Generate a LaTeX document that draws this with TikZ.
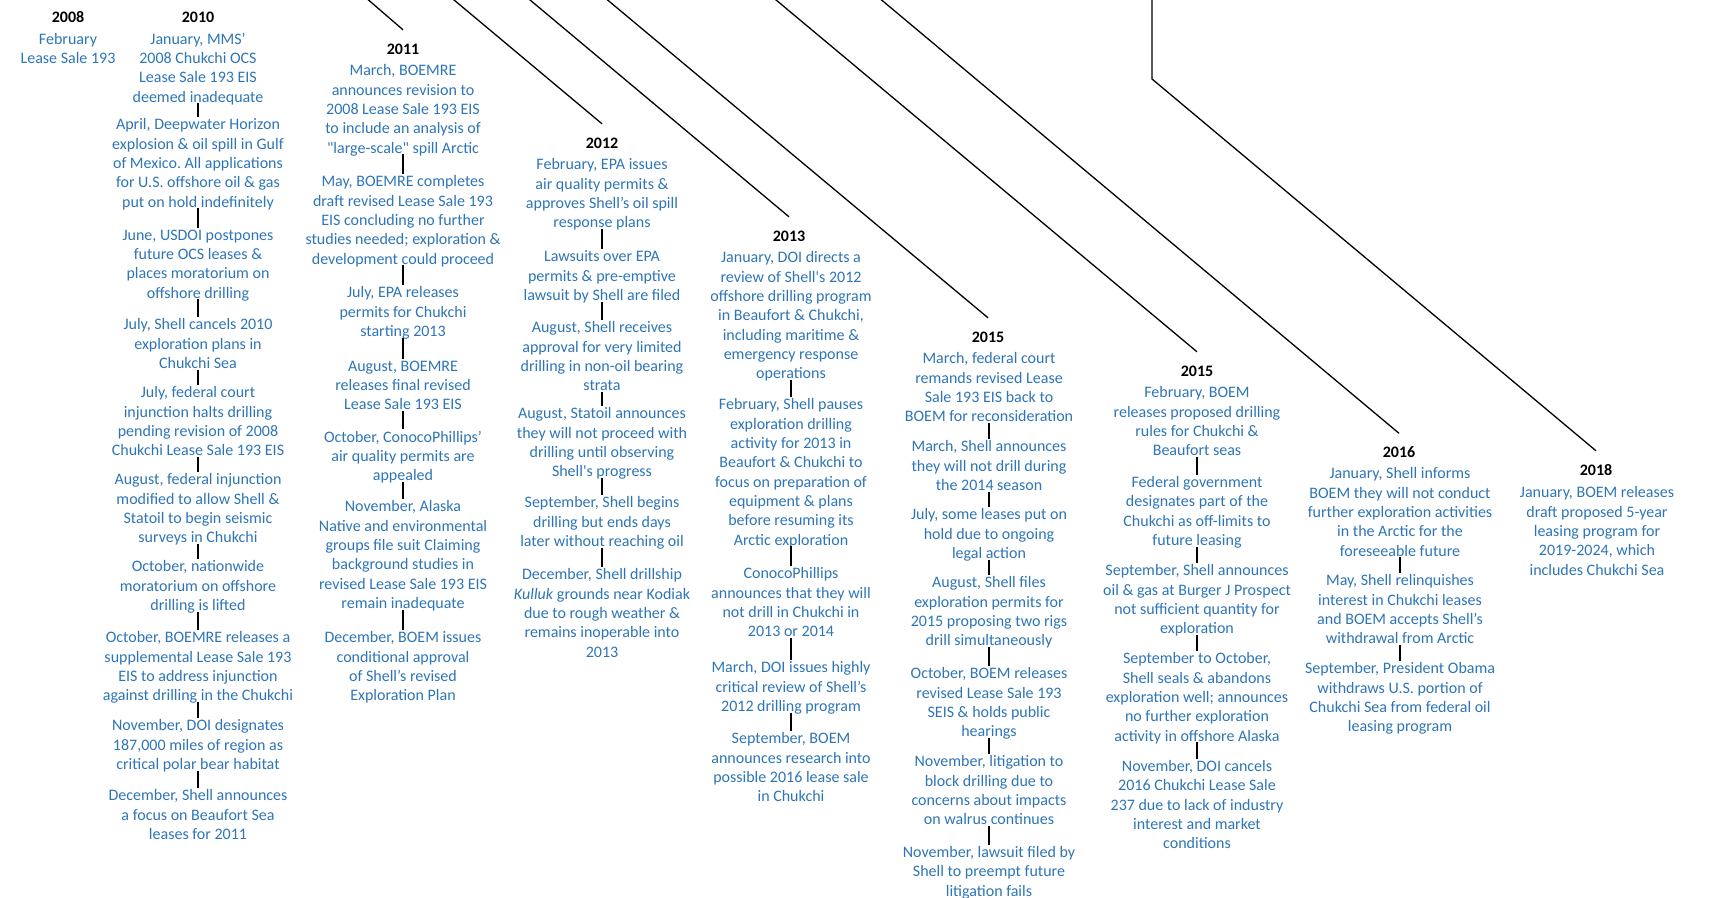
\documentclass[tikz,border=0pt]{standalone}
\usepackage{fontspec}
\setmainfont{Carlito}[Ligatures=TeXOff]
\definecolor{evblue}{HTML}{2E75B6}
\newcommand\evfont{\fontsize{16}{19.3}\selectfont\frenchspacing}
\begin{document}
\begin{tikzpicture}[x=1pt,y=-1pt,
  ev/.style={anchor=north, align=center, inner sep=0pt, text=evblue, font=\evfont,
    yshift=-3.3pt, execute at begin node=\strut, execute at end node=\strut},
  yr/.style={font=\evfont\bfseries, text=black, text height=10pt, text depth=0pt,
    inner xsep=1pt, inner ysep=14pt, yshift=-1pt},
  tickline/.style={draw=black, line width=1.6pt, shorten <=-4.8pt, shorten >=1.8pt},
  leadline/.style={draw=black, line width=1.3pt}]
\useasboundingbox (0,0) rectangle (1715,897);

% ---------------- years ----------------
\node[yr] (y2008) at (68,16.5) {2008};
\node[yr] (y2010) at (198,16.5) {2010};
\node[yr] (y2011) at (403,48) {2011};
\node[yr] (y2012) at (602,142) {2012};
\node[yr] (y2013) at (789,235) {2013};
\node[yr] (y2015a) at (988,336) {2015};
\node[yr] (y2015b) at (1197,370) {2015};
\node[yr] (y2016) at (1399,451.5) {2016};
\node[yr] (y2018) at (1596,469) {2018};

% ---------------- lead lines ----------------
\coordinate (s2011) at (365,-3);
\coordinate (s2012) at (450.5,-3);
\coordinate (s2013) at (526.5,-3);
\coordinate (s2015a) at (604,-3);
\coordinate (s2015b) at (772.5,-3);
\coordinate (s2016) at (878,-3);
\coordinate (s2018) at (1152,-3);
\coordinate (b2018) at (1152,79);
\draw[leadline] (s2011) -- (y2011.north);
\draw[leadline] (s2012) -- (y2012.north);
\draw[leadline] (s2013) -- (y2013.north);
\draw[leadline] (s2015a) -- (y2015a.north);
\draw[leadline] (s2015b) -- (y2015b.north);
\draw[leadline] (s2016) -- (y2016.north);
\draw[leadline] (s2018) -- (b2018) -- (y2018.north);

% ---------------- 2008 ----------------
\node[ev] (e08a) at (68,29.5) {February\\Lease Sale 193};

% ---------------- 2010 ----------------
\node[ev] (e10a) at (198,29.5) {January, MMS’\\2008 Chukchi OCS\\Lease Sale 193 EIS\\deemed inadequate};
\node[ev] (e10b) at (198,115.3) {April, Deepwater Horizon\\explosion \& oil spill in Gulf\\of Mexico. All applications\\for U.S. offshore oil \& gas\\put on hold indefinitely};
\node[ev] (e10c) at (198,226.3) {June, USDOI postpones\\future OCS leases \&\\places moratorium on\\offshore drilling};
\node[ev] (e10d) at (198,315.3) {July, Shell cancels 2010\\exploration plans in\\Chukchi Sea};
\node[ev] (e10e) at (198,383.3) {July, federal court\\injunction halts drilling\\pending revision of 2008\\Chukchi Lease Sale 193 EIS};
\node[ev] (e10f) at (198,470.3) {August, federal injunction\\modified to allow Shell \&\\Statoil to begin seismic\\surveys in Chukchi};
\node[ev] (e10g) at (198,557.3) {October, nationwide\\moratorium on offshore\\drilling is lifted};
\node[ev] (e10h) at (198,628.3) {October, BOEMRE releases a\\supplemental Lease Sale 193\\EIS to address injunction\\against drilling in the Chukchi};
\node[ev] (e10i) at (198,716.3) {November, DOI designates\\187,000 miles of region as\\critical polar bear habitat};
\node[ev] (e10j) at (198,786.3) {December, Shell announces\\a focus on Beaufort Sea\\leases for 2011};
\draw[tickline] (e10a.south) -- (e10b.north);
\draw[tickline] (e10b.south) -- (e10c.north);
\draw[tickline] (e10c.south) -- (e10d.north);
\draw[tickline] (e10d.south) -- (e10e.north);
\draw[tickline] (e10e.south) -- (e10f.north);
\draw[tickline] (e10f.south) -- (e10g.north);
\draw[tickline] (e10g.south) -- (e10h.north);
\draw[tickline] (e10h.south) -- (e10i.north);
\draw[tickline] (e10i.south) -- (e10j.north);

% ---------------- 2011 ----------------
\node[ev] (e11a) at (403,61.3) {March, BOEMRE\\announces revision to\\2008 Lease Sale 193 EIS\\to include an analysis of\\"large-scale" spill Arctic};
\node[ev] (e11b) at (403,172.3) {May, BOEMRE completes\\draft revised Lease Sale 193\\EIS concluding no further\\studies needed; exploration \&\\development could proceed};
\node[ev] (e11c) at (403,283.3) {July, EPA releases\\permits for Chukchi\\starting 2013};
\node[ev] (e11d) at (403,357.3) {August, BOEMRE\\releases final revised\\Lease Sale 193 EIS};
\node[ev] (e11e) at (403,427.3) {October, ConocoPhillips’\\air quality permits are\\appealed};
\node[ev] (e11f) at (403,497.3) {November, Alaska\\Native and environmental\\groups file suit Claiming\\background studies in\\revised Lease Sale 193 EIS\\remain inadequate};
\node[ev] (e11g) at (403,628.3) {December, BOEM issues\\conditional approval\\of Shell’s revised\\Exploration Plan};
\draw[tickline] (e11a.south) -- (e11b.north);
\draw[tickline] (e11b.south) -- (e11c.north);
\draw[tickline] (e11c.south) -- (e11d.north);
\draw[tickline] (e11d.south) -- (e11e.north);
\draw[tickline] (e11e.south) -- (e11f.north);
\draw[tickline] (e11f.south) -- (e11g.north);

% ---------------- 2012 ----------------
\node[ev] (e12a) at (602,155.3) {February, EPA issues\\air quality permits \&\\approves Shell’s oil spill\\response plans};
\node[ev] (e12b) at (602,247.3) {Lawsuits over EPA\\permits \& pre-emptive\\lawsuit by Shell are filed};
\node[ev] (e12c) at (602,318.3) {August, Shell receives\\approval for very limited\\drilling in non-oil bearing\\strata};
\node[ev] (e12d) at (602,404.3) {August, Statoil announces\\they will not proceed with\\drilling until observing\\Shell's progress};
\node[ev] (e12e) at (602,493.3) {September, Shell begins\\drilling but ends days\\later without reaching oil};
\node[ev] (e12f) at (602,565.3) {December, Shell drillship\\\textit{Kulluk} grounds near Kodiak\\due to rough weather \&\\remains inoperable into\\2013};
\draw[tickline] (e12a.south) -- (e12b.north);
\draw[tickline] (e12b.south) -- (e12c.north);
\draw[tickline] (e12c.south) -- (e12d.north);
\draw[tickline] (e12d.south) -- (e12e.north);
\draw[tickline] (e12e.south) -- (e12f.north);

% ---------------- 2013 ----------------
\node[ev] (e13a) at (791,248.3) {January, DOI directs a\\review of Shell's 2012\\offshore drilling program\\in Beaufort \& Chukchi,\\including maritime \&\\emergency response\\operations};
\node[ev] (e13b) at (791,395.3) {February, Shell pauses\\exploration drilling\\activity for 2013 in\\Beaufort \& Chukchi to\\focus on preparation of\\equipment \& plans\\before resuming its\\Arctic exploration};
\node[ev] (e13c) at (791,564.3) {ConocoPhillips\\announces that they will\\not drill in Chukchi in\\2013 or 2014};
\node[ev] (e13d) at (791,658.3) {March, DOI issues highly\\critical review of Shell’s\\2012 drilling program};
\node[ev] (e13e) at (791,729.3) {September, BOEM\\announces research into\\possible 2016 lease sale\\in Chukchi};
\draw[tickline] (e13a.south) -- (e13b.north);
\draw[tickline] (e13b.south) -- (e13c.north);
\draw[tickline] (e13c.south) -- (e13d.north);
\draw[tickline] (e13d.south) -- (e13e.north);

% ---------------- 2015 (first) ----------------
\node[ev] (e15a) at (989,349.3) {March, federal court\\remands revised Lease\\Sale 193 EIS back to\\BOEM for reconsideration};
\node[ev] (e15b) at (989,437.3) {March, Shell announces\\they will not drill during\\the 2014 season};
\node[ev] (e15c) at (989,505.3) {July, some leases put on\\hold due to ongoing\\legal action};
\node[ev] (e15d) at (989,573.3) {August, Shell files\\exploration permits for\\2015 proposing two rigs\\drill simultaneously};
\node[ev] (e15e) at (989,664.3) {October, BOEM releases\\revised Lease Sale 193\\SEIS \& holds public\\hearings};
\node[ev] (e15f) at (989,752.3) {November, litigation to\\block drilling due to\\concerns about impacts\\on walrus continues};
\node[ev] (e15g) at (989,843) {November, lawsuit filed by\\Shell to preempt future\\litigation fails};
\draw[tickline] (e15a.south) -- (e15b.north);
\draw[tickline] (e15b.south) -- (e15c.north);
\draw[tickline] (e15c.south) -- (e15d.north);
\draw[tickline] (e15d.south) -- (e15e.north);
\draw[tickline] (e15e.south) -- (e15f.north);
\draw[tickline] (e15f.south) -- (e15g.north);

% ---------------- 2015 (second) ----------------
\node[ev] (f15a) at (1197,383.3) {February, BOEM\\releases proposed drilling\\rules for Chukchi \&\\Beaufort seas};
\node[ev] (f15b) at (1197,473) {Federal government\\designates part of the\\Chukchi as off-limits to\\future leasing};
\node[ev] (f15c) at (1197,561.3) {September, Shell announces\\oil \& gas at Burger J Prospect\\not sufficient quantity for\\exploration};
\node[ev] (f15d) at (1197,649.3) {September to October,\\Shell seals \& abandons\\exploration well; announces\\no further exploration\\activity in offshore Alaska};
\node[ev] (f15e) at (1197,757) {November, DOI cancels\\2016 Chukchi Lease Sale\\237 due to lack of industry\\interest and market\\conditions};
\draw[tickline] (f15a.south) -- (f15b.north);
\draw[tickline] (f15b.south) -- (f15c.north);
\draw[tickline] (f15c.south) -- (f15d.north);
\draw[tickline] (f15d.south) -- (f15e.north);

% ---------------- 2016 ----------------
\node[ev] (e16a) at (1400,464.3) {January, Shell informs\\BOEM they will not conduct\\further exploration activities\\in the Arctic for the\\foreseeable future};
\node[ev] (e16b) at (1400,571.3) {May, Shell relinquishes\\interest in Chukchi leases\\and BOEM accepts Shell’s\\withdrawal from Arctic};
\node[ev] (e16c) at (1400,659.3) {September, President Obama\\withdraws U.S. portion of\\Chukchi Sea from federal oil\\leasing program};
\draw[tickline] (e16a.south) -- (e16b.north);
\draw[tickline] (e16b.south) -- (e16c.north);

% ---------------- 2018 ----------------
\node[ev] (e18a) at (1597,483.3) {January, BOEM releases\\draft proposed 5-year\\leasing program for\\2019-2024, which\\includes Chukchi Sea};
\end{tikzpicture}
\end{document}
